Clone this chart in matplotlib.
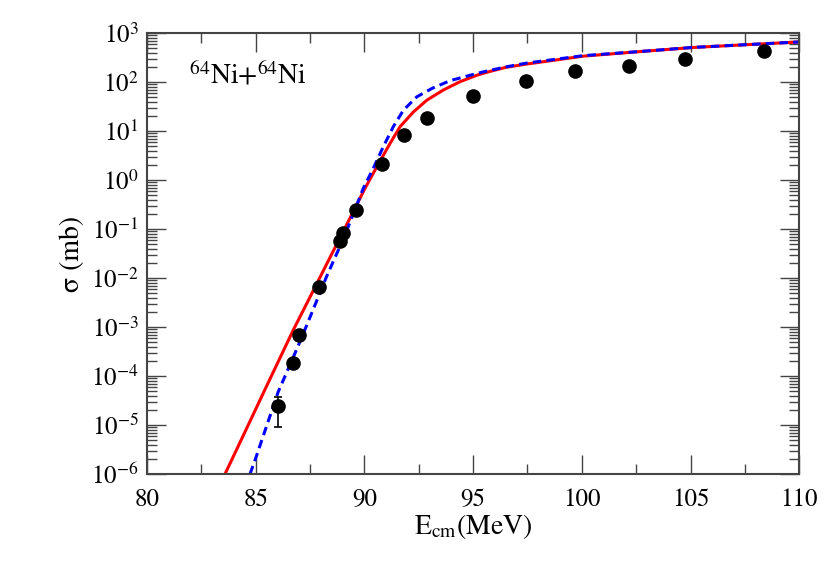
import matplotlib
matplotlib.use("Agg")
import matplotlib.pyplot as plt
from matplotlib.ticker import LogLocator, MultipleLocator, FixedLocator

plt.rcParams['font.family'] = ['STIXGeneral', 'Liberation Serif', 'DejaVu Serif']
plt.rcParams['mathtext.fontset'] = 'stix'

# Experimental data
exp_E = [86.03, 86.70, 87.01, 87.92, 88.90, 89.02, 89.62, 90.83, 91.84, 92.87,
         94.99, 97.43, 99.67, 102.18, 104.74, 108.38]
exp_sigma = [2.4e-5, 1.85e-4, 6.9e-4, 6.6e-3, 0.056, 0.085, 0.25, 2.1, 8.2, 18.7,
             53, 106, 165, 209, 290, 435]
exp_err_lo = [1.47e-5, 0, 0, 0, 0, 0, 0, 0, 0, 0, 0, 0, 0, 0, 0, 0]
exp_err_hi = [1.4e-5, 0, 0, 0, 0, 0, 0, 0, 0, 0, 0, 0, 0, 0, 0, 0]

# Red solid curve
red_E = [83.59, 84.5, 85.5, 86.73, 87.5, 88.5, 89.3, 90.03, 90.57, 91.18, 91.64,
         92.25, 92.87, 93.63, 94.40, 95.17, 95.70, 96.5, 97.47, 100.07, 102.53,
         105.14, 110.0]
red_sigma = [1.0e-6, 7.1e-6, 6.2e-5, 8.7e-4, 4.1e-3, 3.1e-2, 0.155, 0.68, 1.86, 5.6, 12.3,
             24.5, 42.7, 69, 102, 138, 162, 200, 234, 339, 415, 510, 660]

# Blue dashed curve
blue_E = [84.74, 85.0, 86.04, 86.91, 87.42, 88.26, 89.11, 89.95, 90.41, 90.87, 91.33,
          91.80, 92.41, 93.10, 93.94, 94.86, 95.47, 96.5, 97.47, 100.07, 102.53,
          105.14, 110.0]
blue_sigma = [1.0e-6, 2.1e-6, 4.8e-5, 3.7e-4, 1.3e-3, 1.07e-2, 7.6e-2, 0.68, 1.74, 4.8, 12.3,
              26.9, 50, 74, 107, 138, 162, 204, 245, 347, 417, 512, 660]

x_ticks = [80, 85, 90, 95, 100, 105, 110]
y_ticks = [1e-6, 1e-5, 1e-4, 1e-3, 1e-2, 1e-1, 1e0, 1e1, 1e2, 1e3]
y_ticklabels = [r'$10^{-6}$', r'$10^{-5}$', r'$10^{-4}$', r'$10^{-3}$', r'$10^{-2}$',
                r'$10^{-1}$', r'$10^{0}$', r'$10^{1}$', r'$10^{2}$', r'$10^{3}$']

fig = plt.figure(figsize=(8.30, 5.81), dpi=100)
ax = fig.add_axes([0.177, 0.184, 0.786, 0.759])

ax.plot(red_E, red_sigma, color='#ff0000', lw=2.2, solid_joinstyle='round')
ax.plot(blue_E, blue_sigma, color='#0000ff', lw=2.2, dashes=(2.8, 1.7))
ax.errorbar(exp_E, exp_sigma, yerr=[exp_err_lo, exp_err_hi], fmt='o', color='black',
            markersize=9.5, ecolor='black', elinewidth=1.2, capsize=3, capthick=1.2, zorder=5)

ax.set_yscale('log')
ax.set_xlim(80, 110)
ax.set_ylim(1e-6, 1e3)
ax.set_xticks(x_ticks)
ax.set_xticklabels([str(v) for v in x_ticks])
ax.xaxis.set_minor_locator(MultipleLocator(2.5))
ax.yaxis.set_major_locator(FixedLocator(y_ticks))
ax.set_yticklabels(y_ticklabels)
ax.yaxis.set_minor_locator(LogLocator(base=10, subs=range(2, 10), numticks=20))

ax.tick_params(which='both', direction='in', top=True, right=True, labelsize=18,
               color='#444444', width=1.0)
ax.tick_params(which='major', length=14)
ax.tick_params(which='minor', length=7)
ax.tick_params(axis='x', pad=10)
ax.tick_params(axis='y', pad=6)
for s in ax.spines.values():
    s.set_linewidth(1.5)
    s.set_color('#444444')

ax.set_xlabel(r'E$_{\mathrm{cm}}$(MeV)', fontsize=20, labelpad=0)
ax.set_ylabel('σ (mb)', fontsize=20, labelpad=4)
ax.text(0.065, 0.905, r'$^{64}$Ni+$^{64}$Ni', transform=ax.transAxes, fontsize=20,
        va='center', ha='left')

fig.savefig('out.png', dpi=100)
